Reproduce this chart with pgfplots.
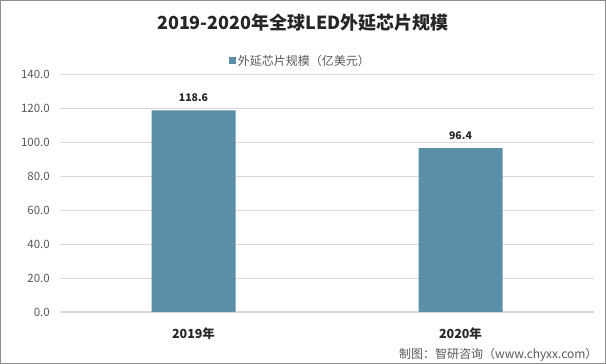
\documentclass[border=0pt]{standalone}
\usepackage{pgfplots}
\pgfplotsset{compat=1.18}
\usepackage{fontspec}
\setmainfont{Noto Sans CJK SC}
\definecolor{barc}{HTML}{5B8FA8}
\definecolor{gridc}{HTML}{D9D9D9}
\definecolor{tickc}{HTML}{595959}
\definecolor{framec}{HTML}{8C8C8C}
\begin{document}
\begin{tikzpicture}[x=1pt,y=1pt]
\useasboundingbox (0,0) rectangle (606,364);
\fill[white] (0,0) rectangle (606,364);
\draw[framec,line width=1pt] (0.5,0.5) rectangle (605.5,363.5);
\node[font=\fontsize{18}{21}\selectfont\bfseries,text=black!85] at (303,341) {2019-2020年全球LED外延芯片规模};
\node[font=\fontsize{12}{14}\selectfont,text=tickc,anchor=east] at (601,9) {制图：智研咨询（www.chyxx.com）};
\begin{axis}[
  at={(60pt,52pt)}, anchor=south west,
  scale only axis, width=534pt, height=238pt,
  xmin=-0.5, xmax=1.5, ymin=0, ymax=140,
  ytick={0,20,...,140},
  xtick={0,1}, xticklabels={2019年,2020年},
  axis x line*=bottom, axis y line*=left,
  x axis line style={gridc, line width=1pt},
  y axis line style={draw=none},
  ymajorgrids, grid style={gridc, line width=0.8pt},
  major tick length=0pt,
  /pgf/number format/assume math mode=true,
  yticklabel style={/pgf/number format/fixed, /pgf/number format/zerofill, /pgf/number format/precision=1, font=\fontsize{11.5}{13}\selectfont, text=tickc, inner sep=0pt, xshift=-10pt},
  xticklabel style={font=\fontsize{12.5}{14}\selectfont\bfseries, text=black!85, yshift=-12pt},
  ybar, bar width=84pt,
  legend style={at={(0.45,1.055)}, anchor=center, draw=none, fill=none, font=\fontsize{12}{14}\selectfont, text=tickc, inner sep=0pt},
  legend image code/.code={\fill[barc] (0pt,-3.5pt) rectangle (7pt,3.5pt);},
  nodes near coords, nodes near coords style={font=\fontsize{10.5}{12}\selectfont\bfseries, text=black!85, yshift=5pt, /pgf/number format/fixed, /pgf/number format/precision=1, /pgf/number format/zerofill},
]
\addplot[fill=barc, draw=none] coordinates {(0,118.6) (1,96.4)};
\addlegendentry{外延芯片规模（亿美元）}
\end{axis}
\end{tikzpicture}
\end{document}
